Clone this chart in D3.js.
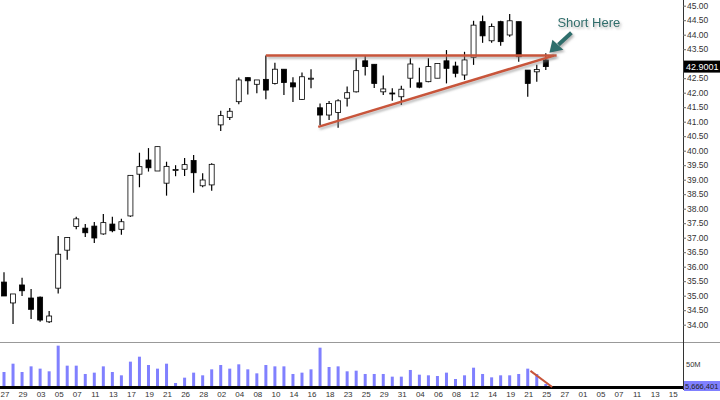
<!DOCTYPE html>
<html lang="en">
<head>
<meta charset="utf-8">
<title>Candles</title>
<script src="https://cdn.jsdelivr.net/npm/d3@7"></script>
<style>
  body { margin: 0; background: #fff; }
  text { font-family: Arial, "Liberation Sans", sans-serif; }
</style>
</head>
<body>
<svg id="chart" width="720" height="400"></svg>
<script>
// OHLC per session
var opens  = [35.47,34.75,35.37,34.92,34.95,34.10,35.26,36.57,37.39,37.33,37.40,37.13,37.47,37.29,37.75,39.19,39.68,39.30,38.88,39.33,39.36,39.66,38.79,38.82,
              40.89,41.15,41.69,42.52,42.29,42.46,42.32,42.81,42.34,41.77,42.48,41.48,41.23,41.32,41.81,42.03,43.10,42.98,42.03,41.99,41.86,42.50,42.34,42.38,42.50,43.10,
              42.92,42.61,43.22,44.45,43.79,44.45,43.99,44.45,42.78,42.72,43.13];
var highs  = [35.81,35.06,35.62,35.23,34.97,34.47,37.06,37.02,37.72,37.47,37.54,37.82,37.72,37.65,39.15,39.93,40.09,40.14,39.62,39.50,39.75,39.85,39.22,39.57,
              41.38,41.47,42.52,42.52,42.44,43.28,43.03,42.81,42.53,42.70,42.81,41.63,41.71,41.77,42.21,43.19,43.30,42.98,42.59,42.15,42.24,43.19,42.86,43.19,43.01,43.47,
              43.07,43.41,44.48,44.66,44.39,44.48,44.71,44.45,42.78,42.96,43.36];
var lows   = [34.99,34.02,34.99,34.20,34.10,34.06,35.08,36.24,37.29,37.02,36.82,37.10,37.19,37.10,37.72,38.74,39.28,39.30,38.45,39.12,39.13,38.55,38.74,38.62,
              40.68,41.06,41.60,41.94,41.98,41.77,42.28,41.92,41.68,41.75,42.15,40.89,41.06,40.79,41.52,42.01,42.59,42.16,41.92,41.72,41.58,42.17,42.15,42.36,42.50,42.32,
              42.53,42.44,42.96,43.72,43.72,43.62,43.93,43.07,41.86,42.38,42.78];
var closes = [34.99,35.06,35.17,34.53,34.16,34.30,36.43,37.01,37.65,37.17,36.99,37.52,37.24,37.55,39.15,39.45,39.41,40.14,39.46,39.35,39.52,39.24,38.99,39.53,
              41.21,41.36,42.44,42.41,42.44,42.09,42.81,42.35,42.20,42.55,42.50,41.23,41.63,41.72,42.00,42.76,42.90,42.32,42.13,41.98,42.12,42.99,42.19,42.90,43.01,42.84,
              42.67,43.13,44.33,43.96,44.28,43.76,44.48,43.24,42.32,42.80,42.90];
// volume, millions
var volumes = [32.6,50.7,32.6,44.9,39.9,34.1,89.9,46.4,46.4,28.3,31.2,44.9,32.6,25.4,55.1,65.9,47.8,39.9,50.7,8.7,20.3,31.2,25.4,38.4,47.8,39.9,49.3,38.4,29.7,47.8,
               44.9,44.9,28.3,31.2,38.4,85.5,43.5,44.9,34.1,35.5,28.3,28.3,28.3,22.5,22.5,37.0,26.8,25.4,23.9,31.2,17.4,25.4,42.0,28.3,21.0,25.4,25.4,28.3,39.9,28.3,6.5];
// date labels, one every second slot (runs past the data)
var dateLabels = ["27","29","03","05","07","11","13","17","19","21","26","28","02","04","08","10","14","16","18",
                  "23","25","29","31","04","06","08","12","14","19","21","25","27","01","05","07","11","13","15"];
var priceTicks = d3.range(34, 45.01, 0.5).filter(function(v) { return Math.abs(v - 43) > 0.01; });
var lastPrice = "42.9001", lastVolume = "5,666,401";
// drawn annotations, in slot / price units
var resistance = [[29, 43.28], [61.2, 43.28]];
var support = [[34.8, 40.82], [60.9, 43.28]];
var volumeTrend = [[58.3, 35], [60.7, 0]];

var svg = d3.select("#chart");
var right = 683;

var x = d3.scaleLinear().domain([0, 1]).range([4, 13.03]);
var y = d3.scaleLinear().domain([34, 45]).range([324.7, 5.7]);
var yv = d3.scaleLinear().domain([0, 50]).range([387, 364]);

// panels
svg.append("line").attr("x1", 0).attr("x2", 720).attr("y1", 342.5).attr("y2", 342.5)
  .attr("stroke", "#999");
svg.append("line").attr("x1", right + .5).attr("x2", right + .5).attr("y1", 0).attr("y2", 390)
  .attr("stroke", "#333");

// price axis
var yAxis = svg.append("g").attr("transform", "translate(" + right + ",0)")
  .call(d3.axisRight(y).tickValues(priceTicks).tickFormat(d3.format(".2f")).tickSize(3));
yAxis.select(".domain").remove();
yAxis.selectAll("text").attr("font-size", 8.5).attr("fill", "#333").attr("x", 4);
yAxis.selectAll("line").attr("stroke", "#666");

var lp = svg.append("g").attr("transform", "translate(" + right + "," + y(42.9) + ")");
lp.append("rect").attr("x", 1).attr("y", -6).attr("width", 37).attr("height", 12).attr("fill", "#000");
lp.append("text").attr("x", 3).attr("y", 3.5).attr("font-size", 9).attr("fill", "#fff").text(lastPrice);

// candles
var idx = d3.range(opens.length);
var c = svg.append("g").selectAll("g").data(idx).join("g");
c.append("line")
  .attr("x1", function(i) { return x(i); }).attr("x2", function(i) { return x(i); })
  .attr("y1", function(i) { return y(highs[i]); }).attr("y2", function(i) { return y(lows[i]); })
  .attr("stroke", "#000").attr("stroke-width", 1.2);
c.append("rect")
  .attr("x", function(i) { return x(i) - 2.5; }).attr("width", 5)
  .attr("y", function(i) { return y(Math.max(opens[i], closes[i])); })
  .attr("height", function(i) { return Math.max(1, Math.abs(y(opens[i]) - y(closes[i]))); })
  .attr("fill", function(i) { return closes[i] >= opens[i] ? "#fff" : "#000"; })
  .attr("stroke", "#000").attr("stroke-width", 0.8);

// volume
svg.append("g").selectAll("rect").data(volumes).join("rect")
  .attr("x", function(d, i) { return x(i) - 1.5; }).attr("width", 3)
  .attr("y", function(d) { return yv(d); })
  .attr("height", function(d) { return yv(0) - yv(d); })
  .attr("fill", "#8080ff");
svg.append("rect").attr("x", 0).attr("y", 386).attr("width", right).attr("height", 3).attr("fill", "#000");
svg.append("text").attr("x", right + 3).attr("y", yv(50) + 3).attr("font-size", 7.5).attr("fill", "#333").text("50M");
svg.append("rect").attr("x", right + 1).attr("y", 381).attr("width", 36).attr("height", 10).attr("fill", "#8080ff");
svg.append("text").attr("x", right + 2).attr("y", 389).attr("font-size", 7.5).attr("fill", "#222").text(lastVolume);

// dates
svg.append("g").selectAll("text").data(dateLabels).join("text")
  .attr("x", function(d, i) { return x(i * 2) + 1; }).attr("y", 397)
  .attr("text-anchor", "middle").attr("font-size", 8).attr("fill", "#333")
  .text(function(d) { return d; });

// annotations
var line = d3.line().x(function(d) { return x(d[0]); }).y(function(d) { return y(d[1]); });
var defs = svg.append("defs");
defs.append("filter").attr("id", "sh").attr("filterUnits", "userSpaceOnUse")
  .attr("x", 0).attr("y", 0).attr("width", 720).attr("height", 400)
  .append("feDropShadow")
  .attr("dx", 1.5).attr("dy", 2).attr("stdDeviation", 1.2).attr("flood-color", "#888").attr("flood-opacity", 0.6);
[resistance, support].forEach(function(p) {
  svg.append("path").attr("d", line(p)).attr("stroke", "#c8553a").attr("stroke-width", 2.5)
    .attr("fill", "none").attr("filter", "url(#sh)");
});
svg.append("path")
  .attr("d", d3.line().x(function(d) { return x(d[0]); }).y(function(d) { return yv(d[1]); })(volumeTrend))
  .attr("stroke", "#c8553a").attr("stroke-width", 2).attr("fill", "none");

// "Short Here" callout
var tip = [x(60.4), y(43.38)];
var ag = svg.append("g").attr("filter", "url(#sh)");
ag.append("path")
  .attr("d", "M" + (tip[0] + 22) + "," + (tip[1] - 20) + " L" + (tip[0] + 9) + "," + (tip[1] - 8))
  .attr("stroke", "#2e6e6c").attr("stroke-width", 4).attr("fill", "none");
ag.append("path")
  .attr("d", "M" + tip[0] + "," + tip[1] + " l3,-13 l11,10 z")
  .attr("fill", "#2e6e6c");
ag.append("text").attr("x", tip[0] + 8).attr("y", 27).attr("font-size", 13)
  .attr("font-family", "'Open Sans', sans-serif").attr("fill", "#2e6e6c").text("Short Here");
</script>
</body>
</html>
